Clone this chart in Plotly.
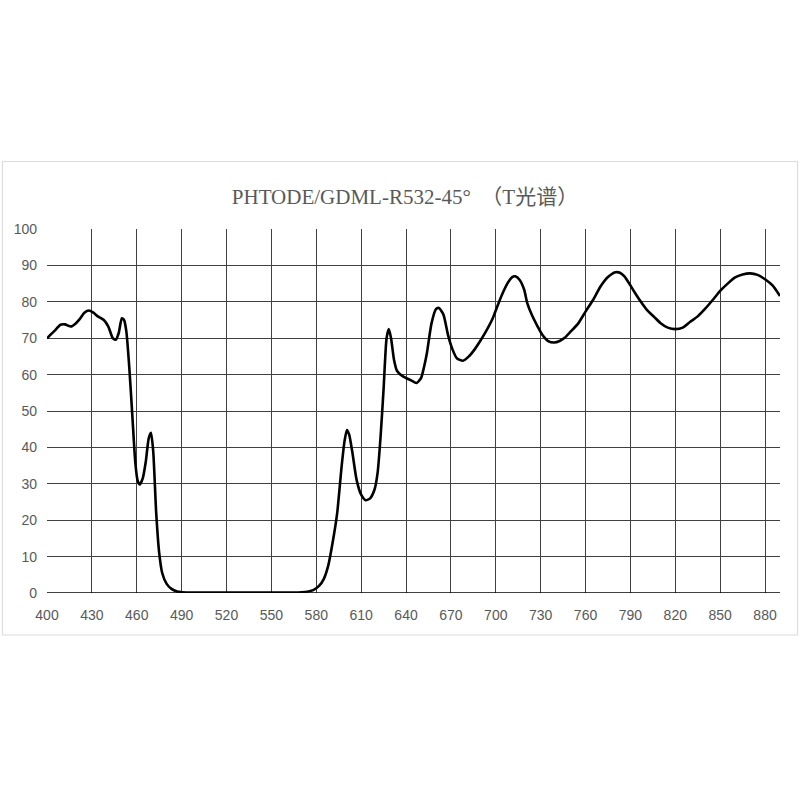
import plotly.graph_objects as go

title_text = "PHTODE/GDML-R532-45°  （T光谱）"

wavelength = [400, 405, 409, 412, 416, 419, 422, 425, 428, 431, 434, 438, 441, 444, 446, 448, 450, 451.5,
              453, 455, 457, 459, 460.5, 462, 464, 466, 468, 469.5, 471, 473, 475, 477, 480, 483, 487, 490,
              500, 520, 550, 570, 578, 582, 585, 588, 591, 594, 597, 599, 600.5, 602, 604, 607, 610, 613,
              616, 619, 621, 623, 625, 627, 628.5, 630, 632, 634, 638, 643, 647, 650, 652, 654, 657, 660,
              662, 665, 668, 671, 674, 678, 682, 686, 690, 694, 698, 701, 704, 708, 711, 713, 716, 719,
              721, 724, 728, 731, 735, 739, 743, 746, 750, 755, 760, 765, 770, 775, 780, 783, 786, 790,
              793, 797, 801, 806, 810, 815, 820, 825, 830, 835, 840, 845, 850, 855, 860, 865, 870, 875,
              880, 885, 890]
transmission = [70.0, 72.0, 73.7, 73.8, 73.2, 74.0, 75.3, 77.0, 77.6, 77.0, 76.0, 75.0, 73.2, 70.0, 69.6, 71.5, 75.5, 75.0,
                72.0, 62.0, 49.0, 36.0, 31.0, 29.8, 31.5, 36.0, 42.5, 44.0, 39.0, 22.0, 11.0, 5.5, 2.5, 1.2, 0.4, 0.2,
                0.1, 0.1, 0.1, 0.2, 0.8, 2.0, 3.8, 7.5, 14.0, 22.0, 35.0, 42.0, 44.8, 43.5, 39.0, 31.0, 27.0, 25.5,
                26.0, 28.5, 33.0, 43.0, 56.0, 70.0, 72.5, 70.0, 64.0, 61.0, 59.5, 58.5, 57.7, 59.0, 62.0, 66.0, 74.0, 78.0,
                78.3, 76.5, 71.0, 67.0, 64.5, 63.8, 65.0, 67.0, 69.5, 72.3, 75.5, 78.7, 81.8, 85.2, 86.8, 87.0, 86.0, 83.3,
                79.7, 76.5, 73.2, 71.0, 69.2, 68.8, 69.3, 70.1, 71.8, 74.0, 77.3, 80.5, 84.2, 86.8, 88.1, 88.0, 87.0, 84.5,
                82.5, 80.0, 77.8, 75.8, 74.2, 72.9, 72.5, 72.9, 74.5, 76.0, 78.1, 80.5, 83.0, 85.0, 86.7, 87.5, 87.8, 87.4,
                86.2, 84.5, 81.6]

x_ticks = list(range(400, 881, 30))
y_ticks = list(range(0, 101, 10))

W, H = 800, 800
ML, MR, MT, MB = 47, 20, 229, 207

fig = go.Figure()
fig.add_trace(go.Scatter(
    x=wavelength, y=transmission, mode="lines",
    line=dict(color="#000000", width=2.6, shape="spline", smoothing=0.6),
    hoverinfo="skip", showlegend=False))

grid_color = "#404040"
tick_font = dict(family="Liberation Sans", size=14, color="#595959")
fig.update_xaxes(
    range=[400, 890], tickmode="array", tickvals=x_ticks, ticktext=[str(v) for v in x_ticks],
    showgrid=True, gridcolor=grid_color, gridwidth=1.3, zeroline=False, automargin=False,
    showline=False, ticks="", ticklabelstandoff=12, tickfont=tick_font)
fig.update_yaxes(
    range=[0, 100], tickmode="array", tickvals=y_ticks, ticktext=[str(v) for v in y_ticks],
    showgrid=True, gridcolor=grid_color, gridwidth=1.3, zeroline=False, automargin=False,
    showline=False, ticks="", ticklabelstandoff=9, tickfont=tick_font)

pw = W - ML - MR
ph = H - MT - MB
def px_to_paper_x(px):
    return (px - ML) / pw
def py_to_paper_y(py):
    return (H - MB - py) / ph

# outer chart frame
fig.add_shape(type="rect", xref="paper", yref="paper",
              x0=px_to_paper_x(2.5), x1=px_to_paper_x(797.5),
              y0=py_to_paper_y(635), y1=py_to_paper_y(161.5),
              line=dict(color="#dcdcdc", width=1.2), fillcolor="rgba(0,0,0,0)", layer="below")
# bottom axis line
fig.add_shape(type="line", xref="paper", yref="y", x0=0, x1=1, y0=0, y1=0,
              line=dict(color="#000000", width=1.6))

fig.update_layout(
    width=W, height=H,
    margin=dict(l=ML, r=MR, t=MT, b=MB),
    paper_bgcolor="white", plot_bgcolor="white",
    title=dict(text=title_text, x=405 / W, xanchor="center", y=1 - 197 / H, yanchor="middle",
               font=dict(family="Liberation Serif, Noto Sans CJK SC", size=21, color="#595959")),
)

fig.write_html("out.html", config={"displayModeBar": False},
               post_script="document.body.style.margin='0px';document.body.style.overflow='hidden';")
